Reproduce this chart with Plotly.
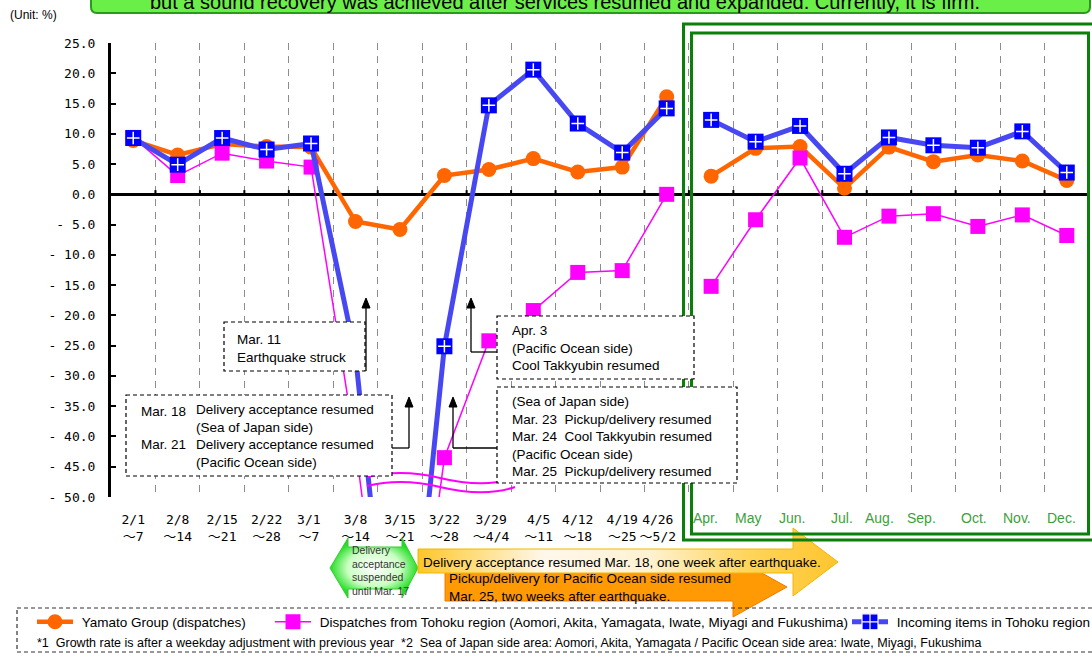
import plotly.graph_objects as go

W, H = 1092, 660

# ---- data -------------------------------------------------------------
week_labels = ["2/1<br>～7", "2/8<br>～14", "2/15<br>～21", "2/22<br>～28",
               "3/1<br>～7", "3/8<br>～14", "3/15<br>～21", "3/22<br>～28",
               "3/29<br>～4/4", "4/5<br>～11", "4/12<br>～18", "4/19<br>～25",
               "4/26<br>～5/2"]
month_labels = ["Apr.", "May", "Jun.", "Jul.", "Aug.", "Sep.", "Oct.", "Nov.", "Dec."]

yamato_week = [8.9, 6.5, 8.3, 7.9, 7.8, -4.5, -5.8, 3.1, 4.1, 5.9, 3.7, 4.5, 16.1]
yamato_month = [3.0, 7.6, 7.9, 1.0, 7.8, 5.4, 6.5, 5.5, 2.3]

dispatch_week = [9.4, 3.1, 6.8, 5.5, 4.5, -41.6, -98.0, -43.5, -24.2, -19.2, -12.9, -12.6, 0.0]
dispatch_month = [-15.2, -4.2, 6.0, -7.1, -3.6, -3.2, -5.3, -3.4, -6.8]

incoming_week = [9.3, 4.9, 9.3, 7.4, 8.4, -26.6, -97.0, -25.1, 14.7, 20.6, 11.7, 6.9, 14.2]
incoming_month = [12.3, 8.7, 11.3, 3.4, 9.4, 8.1, 7.7, 10.4, 3.6]

y_ticks = list(range(-50, 30, 5))

# ---- layout constants -------------------------------------------------
PL, PR, PT, PB = 111, 1089, 43, 497          # plotting frame, pixels
ARIAL = "Liberation Sans, Arial, sans-serif"
MONO = "DejaVu Sans Mono, Noto Sans CJK JP, monospace"

# small nudges of the category labels (in category units / pixels)
week_label_nudge = [0, 0, 0, 0, -0.05, 0, 0, 0, 0.05, 0.12, 0, 0, -0.2]
month_label_nudge_px = [-6, -8, -8, -3, -9, -12, -4, -5, -5]

n_w, n_m = len(week_labels), len(month_labels)
x_week = list(range(n_w))
x_month = list(range(n_w, n_w + n_m))


def joined(week, month):
    """Weekly and monthly runs, kept as two separate line segments."""
    return x_week + [None] + x_month, week + [None] + month


def ylab(v):
    return f"{v:.1f}" if v >= 0 else f"- {abs(v):.1f}"


fig = go.Figure()

NB = "\u00a0"  # small gap between legend symbol and its text

xs, ys = joined(yamato_week, yamato_month)
fig.add_trace(go.Scatter(
    x=xs, y=ys, mode="lines+markers", name=NB + "Yamato Group (dispatches)",
    line=dict(color="#FF6600", width=4.5),
    marker=dict(symbol="circle", size=15, color="#FF6600"),
    legend="legend", hoverinfo="skip"))

xs, ys = joined(dispatch_week, dispatch_month)
fig.add_trace(go.Scatter(
    x=xs, y=ys, mode="lines+markers",
    name=NB + "Dispatches from Tohoku region (Aomori, Akita, Yamagata, Iwate, Miyagi and Fukushima)",
    line=dict(color="#FF00FF", width=1.5),
    marker=dict(symbol="square", size=15, color="#FF00FF"),
    legend="legend2", hoverinfo="skip"))

xs, ys = joined(incoming_week, incoming_month)
fig.add_trace(go.Scatter(
    x=xs, y=ys, mode="lines+markers", name="Incoming items in Tohoku region",
    line=dict(color="#4848F2", width=5),
    marker=dict(symbol="square", size=16, color="#0000FF"),
    showlegend=False, hoverinfo="skip"))
# white plus drawn inside each blue square
fig.add_trace(go.Scatter(
    x=xs, y=ys, mode="markers", showlegend=False, hoverinfo="skip",
    marker=dict(symbol="cross-thin", size=9, color="white",
                line=dict(color="white", width=1.5))))
# legend key for the incoming-items series
fig.add_trace(go.Scatter(
    x=[None], y=[None], mode="lines+markers", name=NB + "Incoming items in Tohoku region",
    line=dict(color="#4848F2", width=5),
    marker=dict(symbol="square-cross", size=16, color="#0000FF",
                line=dict(color="white", width=1.2)),
    legend="legend3", hoverinfo="skip"))


# ---- decorative polygons on a full-canvas pixel axis -----------------
def poly(pts, **kw):
    px = [p[0] for p in pts] + [pts[0][0]]
    py = [p[1] for p in pts] + [pts[0][1]]
    fig.add_trace(go.Scatter(x=px, y=py, xaxis="x2", yaxis="y2", mode="lines",
                             fill="toself", showlegend=False, hoverinfo="skip", **kw))


# double-headed "suspended" marker
poly([(330, 568), (348, 538), (348, 547), (402, 547), (402, 538), (418, 568),
      (402, 598), (402, 589), (348, 589), (348, 598)],
     line=dict(color="#33CC33", width=1),
     fillgradient=dict(type="radial",
                       colorscale=[[0, "#FFFFFF"], [0.6, "#CCFFC4"], [1, "#22DD22"]]))
# Pacific side arrow
poly([(445, 571), (733, 571), (733, 557), (787, 587), (733, 617), (733, 601), (445, 601)],
     line=dict(color="#F07A00", width=1), fillcolor="#FF9A05")
# Sea of Japan side arrow
poly([(418, 549), (793, 549), (793, 528), (838, 562), (793, 596), (793, 573), (418, 573)],
     line=dict(color="#F2B600", width=1),
     fillgradient=dict(type="horizontal",
                       colorscale=[[0, "#FFC52A"], [0.1, "#FFD868"], [0.3, "#FFF7EA"],
                                   [0.55, "#FFF2D2"], [0.78, "#FFD55C"], [1, "#FFC52E"]]))

shapes = []


def pshape(kind, **kw):
    d = dict(type=kind, xref="x2", yref="y2", layer="above")
    d.update(kw)
    shapes.append(d)


# small ticks sitting on the zero line between categories
for i in range(n_w + n_m - 1):
    shapes.append(dict(type="line", xref="x", yref="y", x0=i + 0.5, x1=i + 0.5,
                       y0=0, y1=0.7, line=dict(color="black", width=2), layer="above"))

# green double frame around the monthly section
pshape("rect", x0=683.5, y0=24, x1=1096, y1=540, line=dict(color="#0A7F0A", width=3))
pshape("rect", x0=691.5, y0=33, x1=1088.5, y1=534, line=dict(color="#0A7F0A", width=3))

# axis-break marks
pshape("path", path="M 367,477 C 392,471 415,472 440,478 S 492,486 515,478",
       line=dict(color="#FF00FF", width=2))
pshape("path", path="M 367,486 C 392,480 415,481 440,487 S 492,495 515,487",
       line=dict(color="#FF00FF", width=2))

# dashed call-out boxes
box_line = dict(color="black", width=1.2, dash="4px,3px")
for (x0, y0, x1, y1) in [(224, 322, 365, 371), (126, 395, 392, 476),
                         (497, 316, 694, 379), (497, 387, 737, 483)]:
    pshape("rect", x0=x0, y0=y0, x1=x1, y1=y1, fillcolor="white", line=box_line)

# arrows from call-outs
arrow_line = dict(color="black", width=1.3)
for (ax, tip, tail, hx) in [(366, 298, 371, None), (409, 397, 448, 392),
                            (471, 298, 352, 497), (453, 397, 448, 497)]:
    pshape("line", x0=ax, x1=ax, y0=tail, y1=tip + 6, line=arrow_line)
    pshape("path", path=f"M {ax-4},{tip+10} L {ax},{tip} L {ax+4},{tip+10} Z",
           fillcolor="black", line=dict(color="black", width=1))
    if hx is not None:
        pshape("line", x0=min(ax, hx), x1=max(ax, hx), y0=tail, y1=tail, line=arrow_line)

# headline banner
pshape("path", path="M 91,-20 L 91,7 Q 91,13 97,13 L 1084,13 Q 1090,13 1090,7 L 1090,-20 Z",
       fillcolor="#6AEF48", line=dict(color="#2A9A1A", width=2))

# legend frame
pshape("rect", x0=17, y0=608, x1=1096, y1=652,
       line=dict(color="#333333", width=1.2, dash="4px,3px"))

# ---- text -------------------------------------------------------------
annotations = []


def note(x, y, text, size=13.5, color="black", xanchor="left", family=ARIAL, **kw):
    d = dict(x=x / W, y=1 - y / H, xref="paper", yref="paper", text=text, showarrow=False,
             xanchor=xanchor, yanchor="middle", align="left",
             font=dict(family=family, size=size, color=color))
    d.update(kw)
    annotations.append(d)


note(565, 2, "but a sound recovery was achieved after services resumed and expanded. "
     "Currently, it is firm.", size=20, xanchor="center")
note(8, 15, "(Unit: %)", size=12)

note(235, 348.5, "Mar. 11<br>Earthquake struck")
note(139, 411, "Mar. 18")
note(139, 444.5, "Mar. 21")
note(194, 436, "Delivery acceptance resumed<br>(Sea of Japan side)<br>"
     "Delivery acceptance resumed<br>(Pacific Ocean side)")
note(510, 348, "Apr. 3<br>(Pacific Ocean side)<br>Cool Takkyubin resumed")
note(510, 436, "(Sea of Japan side)<br>Mar. 23\u00a0\u00a0Pickup/delivery resumed<br>"
     "Mar. 24\u00a0\u00a0Cool Takkyubin resumed<br>(Pacific Ocean side)<br>"
     "Mar. 25\u00a0\u00a0Pickup/delivery resumed")

note(350, 570, "Delivery<br>acceptance<br>suspended<br>until Mar. 17", size=10.5, color="#333333")
note(421, 562, "Delivery acceptance resumed Mar. 18, one week after earthquake.")
note(447, 587, "Pickup/delivery for Pacific Ocean side resumed<br>"
     "Mar. 25, two weeks after earthquake.")

note(35, 643, "*1\u00a0\u00a0Growth rate is after a weekday adjustment with previous year"
     "\u00a0\u00a0*2\u00a0\u00a0Sea of Japan side area: Aomori, Akita, Yamagata / "
     "Pacific Ocean side area: Iwate, Miyagi, Fukushima", size=12.5)

# month labels of the monthly section
for i, lab in enumerate(month_labels):
    annotations.append(dict(x=x_month[i], y=1 - 518 / H, xref="x", yref="paper", text=lab,
                            showarrow=False, xanchor="center", yanchor="middle",
                            xshift=month_label_nudge_px[i],
                            font=dict(family=ARIAL, size=14, color="#3C9F3C")))

legend_common = dict(orientation="h", xanchor="left", yanchor="middle",
                     y=1 - 622 / H, bgcolor="rgba(0,0,0,0)", borderwidth=0,
                     font=dict(family=ARIAL, size=13.5, color="black"), itemwidth=36)

fig.update_layout(
    width=W, height=H,
    margin=dict(l=0, r=0, t=0, b=0, autoexpand=False),
    paper_bgcolor="white", plot_bgcolor="rgba(0,0,0,0)",
    showlegend=True,
    legend=dict(x=32 / W, **legend_common),
    legend2=dict(x=270 / W, **legend_common),
    legend3=dict(x=847 / W, **legend_common),
    xaxis=dict(domain=[PL / W, PR / W], range=[-0.5, n_w + n_m - 0.5],
               tickmode="array",
               tickvals=[x + d for x, d in zip(x_week, week_label_nudge)],
               ticktext=week_labels, tickangle=0,
               tickfont=dict(family=MONO, size=13, color="black"),
               ticks="", showline=False, zeroline=False, showgrid=False,
               ticklabelstandoff=13, automargin=False,
               minor=dict(tickmode="array",
                          tickvals=[i + 0.5 for i in range(n_w + n_m - 1)],
                          showgrid=True, gridcolor="#8C8C8C", gridwidth=1,
                          griddash="7px,6px", ticks=""),
               anchor="y", fixedrange=True),
    yaxis=dict(domain=[1 - PB / H, 1 - PT / H], range=[-50, 25],
               tickmode="array", tickvals=y_ticks, ticktext=[ylab(v) for v in y_ticks],
               tickfont=dict(family=MONO, size=13, color="black"),
               ticks="inside", ticklen=5, tickwidth=2, tickcolor="black",
               showline=True, linewidth=3, linecolor="black",
               showgrid=False, zeroline=True, zerolinecolor="black", zerolinewidth=2.5,
               ticklabelstandoff=10, automargin=False, anchor="x", fixedrange=True),
    xaxis2=dict(domain=[0, 1], range=[0, W], visible=False, anchor="y2",
                automargin=False, fixedrange=True),
    yaxis2=dict(domain=[0, 1], range=[H, 0], visible=False, anchor="x2",
                automargin=False, fixedrange=True),
    shapes=shapes,
    annotations=annotations,
)

fig.write_html("out.html")
